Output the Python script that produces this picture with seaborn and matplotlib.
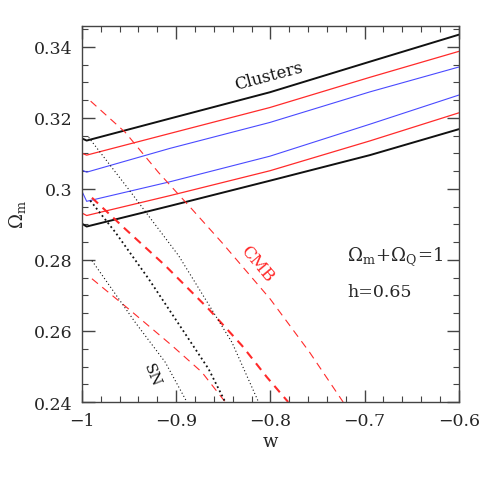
import matplotlib
matplotlib.use("Agg")
import matplotlib.pyplot as plt
import pandas as pd
import seaborn as sns

# cluster constraint bands (outer black, middle red, inner blue)
cluster_w = [-1.0, -0.995, -0.9066, -0.8005, -0.6944, -0.6]
clus_black_hi = [0.3142, 0.3136, 0.3198, 0.3272, 0.3358, 0.3434]
clus_red_hi = [0.3100, 0.3095, 0.3156, 0.3229, 0.3314, 0.3387]
clus_blue_hi = [0.3053, 0.3047, 0.3114, 0.3187, 0.3273, 0.3343]
clus_blue_lo = [0.2993, 0.2965, 0.3020, 0.3092, 0.3182, 0.3264]
clus_red_lo = [0.2932, 0.2925, 0.2981, 0.3051, 0.3135, 0.3214]
clus_black_lo = [0.2902, 0.2894, 0.2952, 0.3023, 0.3095, 0.3168]

# CMB contours (red dashed)
cmb_hi_w = [-0.9908, -0.954, -0.9187, -0.8833, -0.8515, -0.8002, -0.7581, -0.7228]
cmb_hi_om = [0.3247, 0.3159, 0.3046, 0.2943, 0.2849, 0.2690, 0.2539, 0.2400]
cmb_mid_w = [-0.9894, -0.954, -0.9116, -0.8656, -0.8302, -0.8037, -0.7811]
cmb_mid_om = [0.2975, 0.2887, 0.2784, 0.2662, 0.2559, 0.2470, 0.2400]
cmb_lo_w = [-0.9894, -0.9505, -0.9045, -0.8727, -0.8479]
cmb_lo_om = [0.2747, 0.2662, 0.2559, 0.2484, 0.2400]

# SN contours (black dotted)
sn_hi_w = [-0.9929, -0.9505, -0.9293, -0.8974, -0.8691, -0.8408, -0.8126]
sn_hi_om = [0.3145, 0.2999, 0.2924, 0.2812, 0.2690, 0.2568, 0.2400]
sn_mid_w = [-0.9912, -0.9646, -0.9293, -0.8939, -0.8656, -0.8479]
sn_mid_om = [0.2967, 0.2878, 0.2747, 0.2606, 0.2493, 0.2400]
sn_lo_w = [-0.9894, -0.9434, -0.9116, -0.8886]
sn_lo_om = [0.2798, 0.2624, 0.2512, 0.2400]

x_ticks = [-1, -0.9, -0.8, -0.7, -0.6]
x_tick_labels = ["\u22121", "\u22120.9", "\u22120.8", "\u22120.7", "\u22120.6"]
y_ticks = [0.24, 0.26, 0.28, 0.30, 0.32, 0.34]
y_tick_labels = ["0.24", "0.26", "0.28", "0.3", "0.32", "0.34"]

red = "#ff2a2a"
blue = "#4a4aff"
black = "#111111"

sns.set_style("ticks")
plt.rcParams["font.family"] = ["DejaVu Serif"]
plt.rcParams["mathtext.fontset"] = "dejavuserif"

fig, ax = plt.subplots(figsize=(4.85, 4.85), dpi=100)
fig.subplots_adjust(left=0.169, right=0.946, bottom=0.169, top=0.944)


def draw(xs, ys, color, lw, ls):
    df = pd.DataFrame({"w": xs, "om": ys})
    sns.lineplot(data=df, x="w", y="om", color=color, lw=lw, linestyle=ls,
                 estimator=None, sort=False, ax=ax)


# Clusters
draw(cluster_w, clus_black_hi, black, 1.4, "-")
draw(cluster_w, clus_red_hi, red, 0.9, "-")
draw(cluster_w, clus_blue_hi, blue, 0.8, "-")
draw(cluster_w, clus_blue_lo, blue, 0.8, "-")
draw(cluster_w, clus_red_lo, red, 0.9, "-")
draw(cluster_w, clus_black_lo, black, 1.4, "-")

# CMB
draw(cmb_hi_w, cmb_hi_om, red, 0.8, (0, (7, 5)))
draw(cmb_mid_w, cmb_mid_om, red, 1.5, (0, (4, 3)))
draw(cmb_lo_w, cmb_lo_om, red, 0.8, (0, (7, 5)))

# SN
draw(sn_hi_w, sn_hi_om, black, 0.8, (0, (1, 2.2)))
draw(sn_mid_w, sn_mid_om, black, 1.3, (0, (1, 1.6)))
draw(sn_lo_w, sn_lo_om, black, 0.8, (0, (1, 2.2)))

ax.set_xlim(-1, -0.6)
ax.set_ylim(0.24, 0.3458)
ax.set_xticks(x_ticks)
ax.set_xticklabels(x_tick_labels)
ax.set_yticks(y_ticks)
ax.set_yticklabels(y_tick_labels)
ax.set_xticks([-1 + 0.02 * i for i in range(21)], minor=True)
ax.set_yticks([0.24 + 0.005 * i for i in range(22)], minor=True)

ax.tick_params(which="both", direction="in", top=True, right=True,
               color="#444444", labelsize=12.5, pad=7)
ax.tick_params(which="major", length=9, width=1.0)
ax.tick_params(which="minor", length=4.5, width=0.8)
for s in ax.spines.values():
    s.set_color("#444444")
    s.set_linewidth(1.0)

ax.set_xlabel("w", fontsize=13, labelpad=2)
ax.set_ylabel(r"$\Omega_{\rm m}$", fontsize=13, labelpad=4)

ax.text(-0.802, 0.332, "Clusters", fontsize=12, rotation=15,
        ha="center", va="center", color=black)
ax.text(-0.8143, 0.2791, "CMB", fontsize=12, rotation=-50,
        ha="center", va="center", color=red)
ax.text(-0.9257, 0.2479, "SN", fontsize=11, rotation=-68,
        ha="center", va="center", color=black)
ax.text(-0.7185, 0.2812, r"$\Omega_{\rm m}\!+\!\Omega_{\rm Q}\!=\!1$",
        fontsize=13, ha="left", va="center")
ax.text(-0.7185, 0.2712, "h=0.65", fontsize=12.5, ha="left", va="center")

fig.savefig("out.png", dpi=100)
